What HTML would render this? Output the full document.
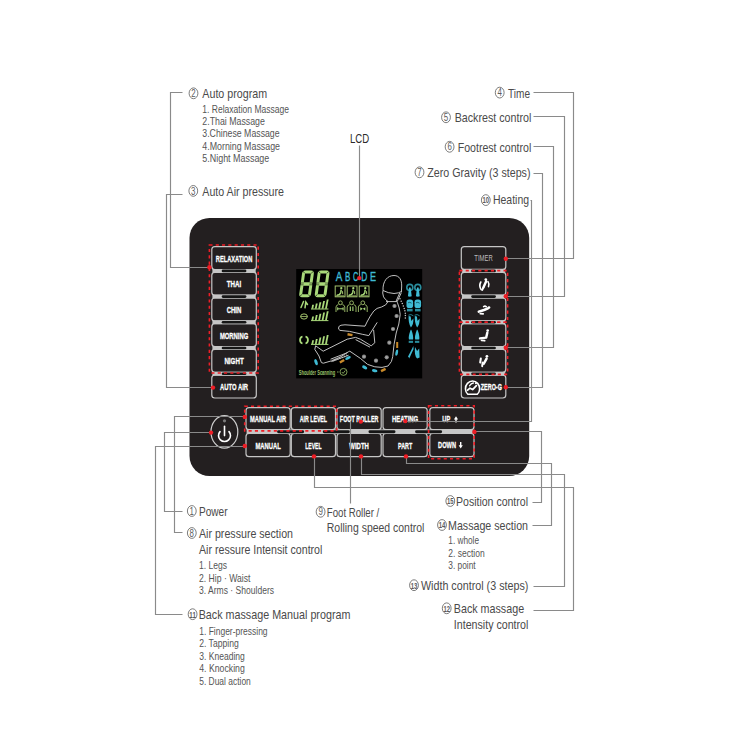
<!DOCTYPE html><html><head><meta charset="utf-8"><style>html,body{margin:0;padding:0;background:#fff;overflow:hidden}svg{display:block}</style></head><body>
<svg width="750" height="750" viewBox="0 0 750 750" font-family="'Liberation Sans', sans-serif">
<rect width="750" height="750" fill="#fff"/>
<ellipse cx="193.5" cy="93.3" rx="4.4" ry="5.4" fill="none" stroke="#5c5c5c" stroke-width="0.8"/>
<text x="193.5" y="96.89999999999999" font-size="10.0" fill="#5c5c5c" text-anchor="middle" textLength="4.4" lengthAdjust="spacingAndGlyphs">2</text>
<text x="202.3" y="98.3" font-size="13.0" fill="#4a4a4a" font-weight="normal" text-anchor="start" textLength="64.8" lengthAdjust="spacingAndGlyphs">Auto program</text>
<text x="202.3" y="112.5" font-size="10.3" fill="#555555" font-weight="normal" text-anchor="start" textLength="86.8" lengthAdjust="spacingAndGlyphs">1. Relaxation Massage</text>
<text x="202.3" y="124.7" font-size="10.3" fill="#555555" font-weight="normal" text-anchor="start" textLength="62.6" lengthAdjust="spacingAndGlyphs">2.Thai Massage</text>
<text x="202.3" y="137.1" font-size="10.3" fill="#555555" font-weight="normal" text-anchor="start" textLength="77.3" lengthAdjust="spacingAndGlyphs">3.Chinese Massage</text>
<text x="202.3" y="149.7" font-size="10.3" fill="#555555" font-weight="normal" text-anchor="start" textLength="77.7" lengthAdjust="spacingAndGlyphs">4.Morning Massage</text>
<text x="202.3" y="162.1" font-size="10.3" fill="#555555" font-weight="normal" text-anchor="start" textLength="67.0" lengthAdjust="spacingAndGlyphs">5.Night Massage</text>
<ellipse cx="193.3" cy="190.9" rx="4.4" ry="5.4" fill="none" stroke="#5c5c5c" stroke-width="0.8"/>
<text x="193.3" y="194.5" font-size="10.0" fill="#5c5c5c" text-anchor="middle" textLength="4.4" lengthAdjust="spacingAndGlyphs">3</text>
<text x="202.3" y="195.9" font-size="13.0" fill="#4a4a4a" font-weight="normal" text-anchor="start" textLength="81.7" lengthAdjust="spacingAndGlyphs">Auto Air pressure</text>
<text x="349.9" y="142.6" font-size="13.5" fill="#2a2a2a" font-weight="normal" text-anchor="start" textLength="19.2" lengthAdjust="spacingAndGlyphs">LCD</text>
<ellipse cx="499.7" cy="92.6" rx="4.4" ry="5.4" fill="none" stroke="#5c5c5c" stroke-width="0.8"/>
<text x="499.7" y="96.19999999999999" font-size="10.0" fill="#5c5c5c" text-anchor="middle" textLength="4.4" lengthAdjust="spacingAndGlyphs">4</text>
<text x="508" y="97.6" font-size="13.0" fill="#4a4a4a" font-weight="normal" text-anchor="start" textLength="22" lengthAdjust="spacingAndGlyphs">Time</text>
<ellipse cx="446.0" cy="117.3" rx="4.4" ry="5.4" fill="none" stroke="#5c5c5c" stroke-width="0.8"/>
<text x="446.0" y="120.89999999999999" font-size="10.0" fill="#5c5c5c" text-anchor="middle" textLength="4.4" lengthAdjust="spacingAndGlyphs">5</text>
<text x="454.7" y="122.3" font-size="13.0" fill="#4a4a4a" font-weight="normal" text-anchor="start" textLength="76.6" lengthAdjust="spacingAndGlyphs">Backrest control</text>
<ellipse cx="449.6" cy="146.8" rx="4.4" ry="5.4" fill="none" stroke="#5c5c5c" stroke-width="0.8"/>
<text x="449.6" y="150.4" font-size="10.0" fill="#5c5c5c" text-anchor="middle" textLength="4.4" lengthAdjust="spacingAndGlyphs">6</text>
<text x="457.7" y="151.8" font-size="13.0" fill="#4a4a4a" font-weight="normal" text-anchor="start" textLength="73.6" lengthAdjust="spacingAndGlyphs">Footrest control</text>
<ellipse cx="419.5" cy="172.3" rx="4.4" ry="5.4" fill="none" stroke="#5c5c5c" stroke-width="0.8"/>
<text x="419.5" y="175.9" font-size="10.0" fill="#5c5c5c" text-anchor="middle" textLength="4.4" lengthAdjust="spacingAndGlyphs">7</text>
<text x="427.3" y="177.3" font-size="13.0" fill="#4a4a4a" font-weight="normal" text-anchor="start" textLength="103.2" lengthAdjust="spacingAndGlyphs">Zero Gravity (3 steps)</text>
<ellipse cx="485.8" cy="200.1" rx="4.4" ry="5.4" fill="none" stroke="#5c5c5c" stroke-width="0.8"/>
<text x="485.8" y="203.4" font-size="9.0" font-weight="bold" fill="#5c5c5c" text-anchor="middle" textLength="6.6" lengthAdjust="spacingAndGlyphs">10</text>
<text x="493" y="204" font-size="13.0" fill="#4a4a4a" font-weight="normal" text-anchor="start" textLength="36" lengthAdjust="spacingAndGlyphs">Heating</text>
<ellipse cx="191.8" cy="511.0" rx="4.4" ry="5.4" fill="none" stroke="#5c5c5c" stroke-width="0.8"/>
<text x="191.8" y="514.6" font-size="10.0" fill="#5c5c5c" text-anchor="middle" textLength="4.4" lengthAdjust="spacingAndGlyphs">1</text>
<text x="199" y="516" font-size="13.0" fill="#4a4a4a" font-weight="normal" text-anchor="start" textLength="28.6" lengthAdjust="spacingAndGlyphs">Power</text>
<ellipse cx="191.8" cy="533.0" rx="4.4" ry="5.4" fill="none" stroke="#5c5c5c" stroke-width="0.8"/>
<text x="191.8" y="536.6" font-size="10.0" fill="#5c5c5c" text-anchor="middle" textLength="4.4" lengthAdjust="spacingAndGlyphs">8</text>
<text x="199" y="538" font-size="13.0" fill="#4a4a4a" font-weight="normal" text-anchor="start" textLength="94" lengthAdjust="spacingAndGlyphs">Air pressure section</text>
<text x="199" y="554.4" font-size="13.0" fill="#4a4a4a" font-weight="normal" text-anchor="start" textLength="123.4" lengthAdjust="spacingAndGlyphs">Air ressure Intensit control</text>
<text x="199" y="568.6" font-size="10.3" fill="#555555" font-weight="normal" text-anchor="start" textLength="28" lengthAdjust="spacingAndGlyphs">1. Legs</text>
<text x="199" y="582" font-size="10.3" fill="#555555" font-weight="normal" text-anchor="start" textLength="51.4" lengthAdjust="spacingAndGlyphs">2. Hip · Waist</text>
<text x="199" y="594" font-size="10.3" fill="#555555" font-weight="normal" text-anchor="start" textLength="75" lengthAdjust="spacingAndGlyphs">3. Arms · Shoulders</text>
<ellipse cx="192.6" cy="614.2" rx="4.4" ry="5.4" fill="none" stroke="#5c5c5c" stroke-width="0.8"/>
<text x="192.6" y="617.5" font-size="9.0" font-weight="bold" fill="#5c5c5c" text-anchor="middle" textLength="6.6" lengthAdjust="spacingAndGlyphs">11</text>
<text x="198.7" y="619.2" font-size="13.0" fill="#4a4a4a" font-weight="normal" text-anchor="start" textLength="151.7" lengthAdjust="spacingAndGlyphs">Back massage Manual program</text>
<text x="199.2" y="634.8" font-size="10.3" fill="#555555" font-weight="normal" text-anchor="start" textLength="68.4" lengthAdjust="spacingAndGlyphs">1. Finger-pressing</text>
<text x="199.2" y="647.3" font-size="10.3" fill="#555555" font-weight="normal" text-anchor="start" textLength="39.6" lengthAdjust="spacingAndGlyphs">2. Tapping</text>
<text x="199.2" y="659.5" font-size="10.3" fill="#555555" font-weight="normal" text-anchor="start" textLength="45.6" lengthAdjust="spacingAndGlyphs">3. Kneading</text>
<text x="199.2" y="672" font-size="10.3" fill="#555555" font-weight="normal" text-anchor="start" textLength="45.6" lengthAdjust="spacingAndGlyphs">4. Knocking</text>
<text x="199.2" y="684.5" font-size="10.3" fill="#555555" font-weight="normal" text-anchor="start" textLength="51.6" lengthAdjust="spacingAndGlyphs">5. Dual action</text>
<ellipse cx="320.6" cy="511.8" rx="4.4" ry="5.4" fill="none" stroke="#5c5c5c" stroke-width="0.8"/>
<text x="320.6" y="515.4" font-size="10.0" fill="#5c5c5c" text-anchor="middle" textLength="4.4" lengthAdjust="spacingAndGlyphs">9</text>
<text x="326.8" y="516.8" font-size="13.0" fill="#4a4a4a" font-weight="normal" text-anchor="start" textLength="52.5" lengthAdjust="spacingAndGlyphs">Foot Roller /</text>
<text x="326.8" y="532" font-size="13.0" fill="#4a4a4a" font-weight="normal" text-anchor="start" textLength="97.6" lengthAdjust="spacingAndGlyphs">Rolling speed control</text>
<ellipse cx="450.3" cy="501.0" rx="4.4" ry="5.4" fill="none" stroke="#5c5c5c" stroke-width="0.8"/>
<text x="450.3" y="504.3" font-size="9.0" font-weight="bold" fill="#5c5c5c" text-anchor="middle" textLength="6.6" lengthAdjust="spacingAndGlyphs">15</text>
<text x="456" y="506" font-size="13.0" fill="#4a4a4a" font-weight="normal" text-anchor="start" textLength="72" lengthAdjust="spacingAndGlyphs">Position control</text>
<ellipse cx="442.0" cy="525.0" rx="4.4" ry="5.4" fill="none" stroke="#5c5c5c" stroke-width="0.8"/>
<text x="442.0" y="528.3" font-size="9.0" font-weight="bold" fill="#5c5c5c" text-anchor="middle" textLength="6.6" lengthAdjust="spacingAndGlyphs">14</text>
<text x="448" y="530" font-size="13.0" fill="#4a4a4a" font-weight="normal" text-anchor="start" textLength="80" lengthAdjust="spacingAndGlyphs">Massage section</text>
<text x="448.3" y="544.4" font-size="10.3" fill="#555555" font-weight="normal" text-anchor="start" textLength="30.7" lengthAdjust="spacingAndGlyphs">1. whole</text>
<text x="448.3" y="556.7" font-size="10.3" fill="#555555" font-weight="normal" text-anchor="start" textLength="36.4" lengthAdjust="spacingAndGlyphs">2. section</text>
<text x="448.3" y="569" font-size="10.3" fill="#555555" font-weight="normal" text-anchor="start" textLength="27.4" lengthAdjust="spacingAndGlyphs">3. point</text>
<ellipse cx="414.0" cy="585.2" rx="4.4" ry="5.4" fill="none" stroke="#5c5c5c" stroke-width="0.8"/>
<text x="414.0" y="588.5" font-size="9.0" font-weight="bold" fill="#5c5c5c" text-anchor="middle" textLength="6.6" lengthAdjust="spacingAndGlyphs">13</text>
<text x="420.9" y="590.2" font-size="13.0" fill="#4a4a4a" font-weight="normal" text-anchor="start" textLength="107.5" lengthAdjust="spacingAndGlyphs">Width control (3 steps)</text>
<ellipse cx="446.7" cy="608.3" rx="4.4" ry="5.4" fill="none" stroke="#5c5c5c" stroke-width="0.8"/>
<text x="446.7" y="611.5999999999999" font-size="9.0" font-weight="bold" fill="#5c5c5c" text-anchor="middle" textLength="6.6" lengthAdjust="spacingAndGlyphs">12</text>
<text x="453.8" y="613.3" font-size="13.0" fill="#4a4a4a" font-weight="normal" text-anchor="start" textLength="70.3" lengthAdjust="spacingAndGlyphs">Back massage</text>
<text x="453.8" y="629.4" font-size="13.0" fill="#4a4a4a" font-weight="normal" text-anchor="start" textLength="74.6" lengthAdjust="spacingAndGlyphs">Intensity control</text>
<rect x="189.5" y="218" width="339.7" height="258" rx="20" ry="20" fill="#231f20"/>
<rect x="296.2" y="269" width="126" height="109.4" fill="#000"/>
<g transform="skewX(-7.7)">
<rect x="340.5280257242769" y="272.1" width="8.8" height="11.8" rx="1.6" fill="none" stroke="#a9d97a" stroke-width="3.0"/>
<rect x="340.5280257242769" y="283.90000000000003" width="8.8" height="11.8" rx="1.6" fill="none" stroke="#a9d97a" stroke-width="3.0"/>
<line x1="339.3280257242769" y1="270.90000000000003" x2="341.7280257242769" y2="273.3" stroke="#000" stroke-width="0.6"/>
<line x1="348.12802572427694" y1="273.3" x2="350.5280257242769" y2="270.90000000000003" stroke="#000" stroke-width="0.6"/>
<line x1="339.3280257242769" y1="296.90000000000003" x2="341.7280257242769" y2="294.50000000000006" stroke="#000" stroke-width="0.6"/>
<line x1="348.12802572427694" y1="294.50000000000006" x2="350.5280257242769" y2="296.90000000000003" stroke="#000" stroke-width="0.6"/>
<line x1="338.9280257242769" y1="283.00000000000006" x2="342.12802572427694" y2="283.00000000000006" stroke="#000" stroke-width="0.5"/>
<line x1="338.9280257242769" y1="284.8" x2="342.12802572427694" y2="284.8" stroke="#000" stroke-width="0.5"/>
<line x1="347.7280257242769" y1="283.00000000000006" x2="350.92802572427695" y2="283.00000000000006" stroke="#000" stroke-width="0.5"/>
<line x1="347.7280257242769" y1="284.8" x2="350.92802572427695" y2="284.8" stroke="#000" stroke-width="0.5"/>
<rect x="356.0780257242769" y="272.1" width="8.8" height="11.8" rx="1.6" fill="none" stroke="#a9d97a" stroke-width="3.0"/>
<rect x="356.0780257242769" y="283.90000000000003" width="8.8" height="11.8" rx="1.6" fill="none" stroke="#a9d97a" stroke-width="3.0"/>
<line x1="354.87802572427694" y1="270.90000000000003" x2="357.2780257242769" y2="273.3" stroke="#000" stroke-width="0.6"/>
<line x1="363.67802572427695" y1="273.3" x2="366.0780257242769" y2="270.90000000000003" stroke="#000" stroke-width="0.6"/>
<line x1="354.87802572427694" y1="296.90000000000003" x2="357.2780257242769" y2="294.50000000000006" stroke="#000" stroke-width="0.6"/>
<line x1="363.67802572427695" y1="294.50000000000006" x2="366.0780257242769" y2="296.90000000000003" stroke="#000" stroke-width="0.6"/>
<line x1="354.4780257242769" y1="283.00000000000006" x2="357.67802572427695" y2="283.00000000000006" stroke="#000" stroke-width="0.5"/>
<line x1="354.4780257242769" y1="284.8" x2="357.67802572427695" y2="284.8" stroke="#000" stroke-width="0.5"/>
<line x1="363.2780257242769" y1="283.00000000000006" x2="366.47802572427696" y2="283.00000000000006" stroke="#000" stroke-width="0.5"/>
<line x1="363.2780257242769" y1="284.8" x2="366.47802572427696" y2="284.8" stroke="#000" stroke-width="0.5"/>
</g>
<text x="335.7" y="281.3" font-size="12" fill="#3fbad3" stroke="#3fbad3" stroke-width="0.35" textLength="6.600000000000023" lengthAdjust="spacingAndGlyphs" font-family="Liberation Sans, sans-serif">A</text>
<text x="345.0" y="281.3" font-size="12" fill="#3fbad3" stroke="#3fbad3" stroke-width="0.35" textLength="5.300000000000011" lengthAdjust="spacingAndGlyphs" font-family="Liberation Sans, sans-serif">B</text>
<text x="353.0" y="281.3" font-size="12" fill="#3fbad3" stroke="#3fbad3" stroke-width="0.35" textLength="5.300000000000011" lengthAdjust="spacingAndGlyphs" font-family="Liberation Sans, sans-serif">C</text>
<text x="361.3" y="281.3" font-size="12" fill="#3fbad3" stroke="#3fbad3" stroke-width="0.35" textLength="6.0" lengthAdjust="spacingAndGlyphs" font-family="Liberation Sans, sans-serif">D</text>
<text x="370.0" y="281.3" font-size="12" fill="#3fbad3" stroke="#3fbad3" stroke-width="0.35" textLength="6.0" lengthAdjust="spacingAndGlyphs" font-family="Liberation Sans, sans-serif">E</text>
<rect x="335.2" y="286.0" width="9.8" height="10.8" fill="none" stroke="#a4c46e" stroke-width="1"/>
<circle cx="341.3" cy="288.2" r="1.15" fill="#a9d97a"/>
<path d="M341.2,289.6 L340.8,292.4 Q340.09999999999997,295 336.8,295.3" fill="none" stroke="#a9d97a" stroke-width="1.5"/>
<path d="M342.5,291.2 L342.7,294.2" fill="none" stroke="#a4c46e" stroke-width="1.0"/>
<path d="M336.0,295.9 L344.2,295.9" stroke="#a4c46e" stroke-width="0.9"/>
<rect x="347.2" y="286.0" width="9.8" height="10.8" fill="none" stroke="#a4c46e" stroke-width="1"/>
<circle cx="353.3" cy="288.2" r="1.15" fill="#a9d97a"/>
<path d="M353.2,289.6 L352.8,292.4 Q352.09999999999997,295 348.8,295.3" fill="none" stroke="#a9d97a" stroke-width="1.5"/>
<path d="M354.5,291.2 L354.7,294.2" fill="none" stroke="#a4c46e" stroke-width="1.0"/>
<path d="M348.0,295.9 L356.2,295.9" stroke="#a4c46e" stroke-width="0.9"/>
<rect x="359.2" y="286.0" width="9.8" height="10.8" fill="none" stroke="#a4c46e" stroke-width="1"/>
<circle cx="365.3" cy="288.2" r="1.15" fill="#a9d97a"/>
<path d="M365.2,289.6 L364.8,292.4 Q364.09999999999997,295 360.8,295.3" fill="none" stroke="#a9d97a" stroke-width="1.5"/>
<path d="M366.5,291.2 L366.7,294.2" fill="none" stroke="#a4c46e" stroke-width="1.0"/>
<path d="M360.0,295.9 L368.2,295.9" stroke="#a4c46e" stroke-width="0.9"/>
<circle cx="340.4" cy="302.8" r="1.9" fill="none" stroke="#a4c46e" stroke-width="0.9"/>
<path d="M336.0,312 L336.0,307 Q336.2,305 338.4,304.6 M342.4,304.6 Q344.59999999999997,305 344.79999999999995,307 L344.79999999999995,312" fill="none" stroke="#a4c46e" stroke-width="0.9"/>
<path d="M337.7,308.8 L343.09999999999997,308.8 M337.7,307.3 L337.7,310.3 M343.09999999999997,307.3 L343.09999999999997,310.3" stroke="#a9d97a" stroke-width="1"/>
<circle cx="351.6" cy="302.8" r="1.9" fill="none" stroke="#a4c46e" stroke-width="0.9"/>
<path d="M347.20000000000005,312 L347.20000000000005,307 Q347.40000000000003,305 349.6,304.6 M353.6,304.6 Q355.8,305 356.0,307 L356.0,312" fill="none" stroke="#a4c46e" stroke-width="0.9"/>
<path d="M350.3,306.5 L350.3,311 M352.90000000000003,306.5 L352.90000000000003,311" stroke="#a9d97a" stroke-width="1.1"/>
<circle cx="362.8" cy="302.8" r="1.9" fill="none" stroke="#a4c46e" stroke-width="0.9"/>
<path d="M358.40000000000003,312 L358.40000000000003,307 Q358.6,305 360.8,304.6 M364.8,304.6 Q367.0,305 367.2,307 L367.2,312" fill="none" stroke="#a4c46e" stroke-width="0.9"/>
<path d="M360.3,307.2 L360.3,310.4 L362.8,308.8 Z M365.3,307.2 L365.3,310.4 L362.8,308.8 Z" fill="#a9d97a"/>
<polygon points="311.4,308.8 313.2,308.8 314.0,304.8 312.2,304.8" fill="#a9d97a"/>
<polygon points="314.8,308.8 316.6,308.8 317.66,303.5 315.86,303.5" fill="#a9d97a"/>
<polygon points="318.2,308.8 320.0,308.8 321.32,302.2 319.52,302.2" fill="#a9d97a"/>
<polygon points="321.6,308.8 323.40000000000003,308.8 324.98,300.90000000000003 323.18,300.90000000000003" fill="#a9d97a"/>
<polygon points="325.0,308.8 326.8,308.8 328.64,299.6 326.84,299.6" fill="#a9d97a"/>
<rect x="311.0" y="308.5" width="17.4" height="1.0" fill="#a9d97a"/>
<polygon points="311.4,320.4 313.2,320.4 314.0,316.4 312.2,316.4" fill="#a9d97a"/>
<polygon points="314.8,320.4 316.6,320.4 317.66,315.09999999999997 315.86,315.09999999999997" fill="#a9d97a"/>
<polygon points="318.2,320.4 320.0,320.4 321.32,313.79999999999995 319.52,313.79999999999995" fill="#a9d97a"/>
<polygon points="321.6,320.4 323.40000000000003,320.4 324.98,312.5 323.18,312.5" fill="#a9d97a"/>
<polygon points="325.0,320.4 326.8,320.4 328.64,311.2 326.84,311.2" fill="#a9d97a"/>
<rect x="311.0" y="320.09999999999997" width="17.4" height="1.0" fill="#a9d97a"/>
<polygon points="311.4,344.2 313.2,344.2 314.0,340.2 312.2,340.2" fill="#a9d97a"/>
<polygon points="314.8,344.2 316.6,344.2 317.66,338.9 315.86,338.9" fill="#a9d97a"/>
<polygon points="318.2,344.2 320.0,344.2 321.32,337.59999999999997 319.52,337.59999999999997" fill="#a9d97a"/>
<polygon points="321.6,344.2 323.40000000000003,344.2 324.98,336.3 323.18,336.3" fill="#a9d97a"/>
<polygon points="325.0,344.2 326.8,344.2 328.64,335.0 326.84,335.0" fill="#a9d97a"/>
<rect x="311.0" y="343.9" width="17.4" height="1.0" fill="#a9d97a"/>
<path d="M301,307.5 L303.5,301.5 M305,307.8 L305.8,302 L307.5,304.5" fill="none" stroke="#a9d97a" stroke-width="1.5" stroke-linecap="round"/>
<ellipse cx="304" cy="316.5" rx="3.4" ry="2.6" fill="none" stroke="#a4c46e" stroke-width="1"/>
<path d="M300.5,316.5 L307.5,316.5" stroke="#a4c46e" stroke-width="0.8"/>
<path d="M302.5,336.5 A3.2,3.6 0 0,0 302.5,343.5 M305.5,336.5 A3.2,3.6 0 0,1 305.5,343.5" fill="none" stroke="#a9d97a" stroke-width="1.8"/>
<circle cx="409.8" cy="287.4" r="3.0" fill="none" stroke="#2a8c9c" stroke-width="1.6"/>
<path d="M409.0,287.4 L407.90000000000003,296.3 Q409.8,297.0 411.7,296.3 L410.6,287.4 Z" fill="#3fbad3"/>
<circle cx="417.8" cy="287.4" r="3.0" fill="none" stroke="#2a8c9c" stroke-width="1.6"/>
<path d="M417.0,287.4 L415.90000000000003,296.3 Q417.8,297.0 419.7,296.3 L418.6,287.4 Z" fill="#3fbad3"/>
<rect x="406.5" y="299.6" width="6.6000000000000005" height="8.4" rx="2.6" fill="#3fbad3"/>
<path d="M408.0,302.8 Q409.8,301.6 411.59999999999997,303.20000000000005" fill="none" stroke="#0b4a55" stroke-width="0.8"/>
<rect x="407.0" y="308.8" width="5.6" height="2.6" fill="#2a8c9c"/>
<rect x="414.5" y="299.6" width="6.6000000000000005" height="8.4" rx="2.6" fill="#3fbad3"/>
<path d="M416.0,302.8 Q417.8,301.6 419.59999999999997,303.20000000000005" fill="none" stroke="#0b4a55" stroke-width="0.8"/>
<rect x="415.0" y="308.8" width="5.6" height="2.6" fill="#2a8c9c"/>
<path d="M408.59999999999997,316.1 Q408.2,323.4 410.9,327.4 Q413.7,324.4 413.4,318.6 L411.29999999999995,321.1 L410.7,316.6 Z" fill="#3fbad3"/>
<path d="M408.4,315.20000000000005 Q410.9,313.6 413.4,315.8" fill="none" stroke="#2a8c9c" stroke-width="0.9"/>
<path d="M414.8,316.1 Q414.40000000000003,323.4 417.1,327.4 Q419.90000000000003,324.4 419.6,318.6 L417.5,321.1 L416.90000000000003,316.6 Z" fill="#3fbad3"/>
<path d="M414.6,315.20000000000005 Q417.1,313.6 419.6,315.8" fill="none" stroke="#2a8c9c" stroke-width="0.9"/>
<path d="M410.7,329.8 Q408.0,336.8 409.0,339.6 L413.0,339.6 Q413.7,335.8 411.29999999999995,329.8 Z" fill="#3fbad3"/>
<rect x="408.7" y="340.8" width="4.4" height="2.1" fill="#2a8c9c"/>
<path d="M416.90000000000003,329.8 Q414.20000000000005,336.8 415.20000000000005,339.6 L419.20000000000005,339.6 Q419.90000000000003,335.8 417.5,329.8 Z" fill="#3fbad3"/>
<rect x="414.90000000000003" y="340.8" width="4.4" height="2.1" fill="#2a8c9c"/>
<path d="M413.4,346.0 L408.2,356.20000000000005 L409.2,358.6 L413.59999999999997,349.0 Z" fill="#3fbad3"/>
<path d="M415.0,346.9 Q414.1,355.6 417.1,358.6 L419.6,357.6 L419.20000000000005,348.4 L417.1,350.9 Z" fill="#3fbad3"/>
<path d="M383,290.5 C382.6,281 387.5,275.5 394,275.5 C399.5,275.5 401.8,280 401.7,286 L401.4,292 M383,290.5 Q388,293.2 394,293.5 Q399,293.2 401.4,291.5 M383,290.5 L382.7,293 Q383,297.5 385.5,299.5 L388,301.5 M386,301.6 L397.5,301.6 M401.4,292.5 L397.3,301.3 M399.8,292.8 L395.9,301.6 M388,301.6 Q386.5,305.5 381.5,307 Q376.5,307.8 373.8,311 Q370,316 367,322 L365,326.2 L356,325.6 L345,324.8 Q340,324.8 338.8,326.6 Q337.8,329.8 340,330.4 L349.6,331.4 L362.8,334.4 L368.8,335.6 L377.2,322.4 M373.6,329.8 L374.8,342.8 L371.2,345.8 L360.4,339.2 L355.6,337.4 L347.2,339.2 L334,345.8 L323.2,351.2 L319,348.2 L315.6,345.8 L314.8,349.4 L319,356 L321.4,362.6 L323.4,363.2 L331.6,360.8 L340,357.2 L348.4,351.8 L349.8,351.2 L360.4,358.4 L367.6,364.4 L374.8,366.8 L382,367.4 L388,366 L391.4,361.5 L392.7,356.7 L394,344.7 L396.2,333 L398.8,324 L400.2,314.5 L399.2,308 L397.3,302.2 M355.6,339.6 L370,347.2 M330.6,359.2 L347.6,352.6 M331.4,361.6 L348.6,355.2" fill="none" stroke="#c9c9c9" stroke-width="0.95" stroke-linejoin="round"/>
<line x1="333.0" y1="359.40000000000003" x2="333.8" y2="361.6" stroke="#c9c9c9" stroke-width="0.6"/>
<line x1="335.2" y1="358.55" x2="336.0" y2="360.75" stroke="#c9c9c9" stroke-width="0.6"/>
<line x1="337.4" y1="357.70000000000005" x2="338.2" y2="359.90000000000003" stroke="#c9c9c9" stroke-width="0.6"/>
<line x1="339.6" y1="356.85" x2="340.40000000000003" y2="359.05" stroke="#c9c9c9" stroke-width="0.6"/>
<line x1="341.8" y1="356.00000000000006" x2="342.6" y2="358.20000000000005" stroke="#c9c9c9" stroke-width="0.6"/>
<line x1="344.0" y1="355.15000000000003" x2="344.8" y2="357.35" stroke="#c9c9c9" stroke-width="0.6"/>
<line x1="346.2" y1="354.3" x2="347.0" y2="356.5" stroke="#c9c9c9" stroke-width="0.6"/>
<circle cx="400.0" cy="298.7" r="0.75" fill="#c8c8c8"/>
<circle cx="401.2" cy="301.2" r="0.75" fill="#c8c8c8"/>
<circle cx="402.3" cy="303.6" r="0.75" fill="#c8c8c8"/>
<circle cx="403.3" cy="306.0" r="0.75" fill="#c8c8c8"/>
<circle cx="404.2" cy="308.4" r="0.75" fill="#c8c8c8"/>
<circle cx="404.9" cy="310.8" r="0.75" fill="#c8c8c8"/>
<circle cx="405.3" cy="313.2" r="0.75" fill="#c8c8c8"/>
<circle cx="405.4" cy="315.6" r="0.75" fill="#c8c8c8"/>
<circle cx="405.3" cy="318.0" r="0.75" fill="#c8c8c8"/>
<circle cx="394.5" cy="306" r="2.1" fill="#8d8d8d"/>
<circle cx="394.5" cy="306" r="1.0" fill="#a8a8a8"/>
<circle cx="396.6" cy="316" r="2.1" fill="#8d8d8d"/>
<circle cx="396.6" cy="316" r="1.0" fill="#a8a8a8"/>
<circle cx="393" cy="329" r="2.1" fill="#8d8d8d"/>
<circle cx="393" cy="329" r="1.0" fill="#a8a8a8"/>
<circle cx="389.3" cy="342.7" r="2.1" fill="#8d8d8d"/>
<circle cx="389.3" cy="342.7" r="1.0" fill="#a8a8a8"/>
<circle cx="386.7" cy="357.3" r="2.1" fill="#8d8d8d"/>
<circle cx="386.7" cy="357.3" r="1.0" fill="#a8a8a8"/>
<circle cx="376" cy="360.7" r="2.1" fill="#8d8d8d"/>
<circle cx="376" cy="360.7" r="1.0" fill="#a8a8a8"/>
<circle cx="364" cy="356.7" r="2.1" fill="#8d8d8d"/>
<circle cx="364" cy="356.7" r="1.0" fill="#a8a8a8"/>
<rect x="347.5" y="333.5" width="5" height="2.4" fill="#c98a2a" transform="rotate(10 350 334.7)"/>
<rect x="339.5" y="360.1" width="5" height="2.4" fill="#c98a2a" transform="rotate(-30 342 361.3)"/>
<rect x="380.8" y="368.8" width="5" height="2.4" fill="#c98a2a" transform="rotate(-25 383.3 370)"/>
<rect x="396.2" y="342" width="2" height="6" fill="#c98a2a"/>
<ellipse cx="316.1" cy="362.2" rx="1.5" ry="3.2" fill="#3fbad3" transform="rotate(-20 316.1 362.2)"/>
<ellipse cx="348" cy="358" rx="3.0" ry="1.4" fill="#3fbad3" transform="rotate(-25 348 358)"/>
<ellipse cx="364.7" cy="367.3" rx="2.8" ry="1.6" fill="#3fbad3" transform="rotate(30 364.7 367.3)"/>
<ellipse cx="374.7" cy="370.7" rx="2.8" ry="1.5" fill="#3fbad3" transform="rotate(10 374.7 370.7)"/>
<ellipse cx="396.7" cy="352.7" rx="1.3" ry="3.2" fill="#3fbad3" transform="rotate(10 396.7 352.7)"/>
<text x="298.8" y="374.8" font-size="6.8" font-weight="bold" fill="#9cc36a" textLength="36.4" lengthAdjust="spacingAndGlyphs" font-family="Liberation Sans, sans-serif">Shoulder Scanning</text>
<rect x="337" y="371.6" width="1.6" height="0.8" fill="#9cc36a"/>
<circle cx="343.5" cy="371.9" r="3.5" fill="none" stroke="#9cc36a" stroke-width="0.8"/>
<path d="M341.8,372 L343.1,373.4 L345.3,370.5" fill="none" stroke="#9cc36a" stroke-width="0.8"/>
<rect x="211.8" y="246.6" width="44.5" height="22.900000000000006" rx="3" ry="3" fill="#231f20" stroke="#c6c6c6" stroke-width="1.2"/>
<text x="234.05" y="261.584" font-size="9.3" fill="#fff" font-weight="bold" text-anchor="middle" textLength="36.4" lengthAdjust="spacingAndGlyphs" stroke="#fff" stroke-width="0.3">RELAXATION</text>
<rect x="211.8" y="272.3" width="44.5" height="22.899999999999977" rx="3" ry="3" fill="#231f20" stroke="#c6c6c6" stroke-width="1.2"/>
<text x="234.05" y="287.284" font-size="9.3" fill="#fff" font-weight="bold" text-anchor="middle" textLength="14.5" lengthAdjust="spacingAndGlyphs" stroke="#fff" stroke-width="0.3">THAI</text>
<rect x="211.8" y="298.0" width="44.5" height="22.899999999999977" rx="3" ry="3" fill="#231f20" stroke="#c6c6c6" stroke-width="1.2"/>
<text x="234.05" y="312.984" font-size="9.3" fill="#fff" font-weight="bold" text-anchor="middle" textLength="14.6" lengthAdjust="spacingAndGlyphs" stroke="#fff" stroke-width="0.3">CHIN</text>
<rect x="211.8" y="323.7" width="44.5" height="22.899999999999977" rx="3" ry="3" fill="#231f20" stroke="#c6c6c6" stroke-width="1.2"/>
<text x="234.05" y="338.68399999999997" font-size="9.3" fill="#fff" font-weight="bold" text-anchor="middle" textLength="28.3" lengthAdjust="spacingAndGlyphs" stroke="#fff" stroke-width="0.3">MORNING</text>
<rect x="211.8" y="349.4" width="44.5" height="22.899999999999977" rx="3" ry="3" fill="#231f20" stroke="#c6c6c6" stroke-width="1.2"/>
<text x="234.05" y="364.38399999999996" font-size="9.3" fill="#fff" font-weight="bold" text-anchor="middle" textLength="19.3" lengthAdjust="spacingAndGlyphs" stroke="#fff" stroke-width="0.3">NIGHT</text>
<rect x="211.8" y="375.1" width="44.5" height="22.899999999999977" rx="3" ry="3" fill="#231f20" stroke="#c6c6c6" stroke-width="1.2"/>
<text x="234.05" y="390.084" font-size="9.3" fill="#fff" font-weight="bold" text-anchor="middle" textLength="28.0" lengthAdjust="spacingAndGlyphs" stroke="#fff" stroke-width="0.3">AUTO AIR</text>
<rect x="212.4" y="269.0" width="43.3" height="3.8000000000000114" fill="#c6c6c6"/>
<rect x="221.7095" y="269.59999999999997" width="24.680999999999997" height="2.6" rx="1.3" fill="#151515"/>
<rect x="212.4" y="294.7" width="43.3" height="3.8000000000000114" fill="#c6c6c6"/>
<rect x="221.7095" y="295.3" width="24.680999999999997" height="2.6" rx="1.3" fill="#151515"/>
<rect x="212.4" y="320.4" width="43.3" height="3.8000000000000114" fill="#c6c6c6"/>
<rect x="221.7095" y="320.99999999999994" width="24.680999999999997" height="2.6" rx="1.3" fill="#151515"/>
<rect x="212.4" y="346.09999999999997" width="43.3" height="3.8000000000000114" fill="#c6c6c6"/>
<rect x="221.7095" y="346.7" width="24.680999999999997" height="2.6" rx="1.3" fill="#151515"/>
<rect x="212.4" y="371.79999999999995" width="43.3" height="3.800000000000068" fill="#c6c6c6"/>
<rect x="221.7095" y="372.4" width="24.680999999999997" height="2.6" rx="1.3" fill="#151515"/>
<rect x="461.3" y="246.6" width="44.5" height="22.8" rx="3" ry="3" fill="#231f20" stroke="#c6c6c6" stroke-width="1.2"/>
<text x="483.55" y="261.116" font-size="8.2" fill="#bdbdbd" font-weight="normal" text-anchor="middle" textLength="18.4" lengthAdjust="spacingAndGlyphs">TIMER</text>
<rect x="461.3" y="272.3" width="44.5" height="22.899999999999977" rx="3" ry="3" fill="#231f20" stroke="#c6c6c6" stroke-width="1.2"/>
<rect x="461.3" y="298.0" width="44.5" height="22.899999999999977" rx="3" ry="3" fill="#231f20" stroke="#c6c6c6" stroke-width="1.2"/>
<rect x="461.3" y="323.7" width="44.5" height="22.899999999999977" rx="3" ry="3" fill="#231f20" stroke="#c6c6c6" stroke-width="1.2"/>
<rect x="461.3" y="349.4" width="44.5" height="22.899999999999977" rx="3" ry="3" fill="#231f20" stroke="#c6c6c6" stroke-width="1.2"/>
<rect x="461.3" y="375.1" width="44.5" height="22.899999999999977" rx="3" ry="3" fill="#231f20" stroke="#c6c6c6" stroke-width="1.2"/>
<rect x="461.90000000000003" y="269.0" width="43.3" height="3.8000000000000114" fill="#c6c6c6"/>
<rect x="471.20950000000005" y="269.59999999999997" width="24.680999999999997" height="2.6" rx="1.3" fill="#151515"/>
<rect x="461.90000000000003" y="294.7" width="43.3" height="3.8000000000000114" fill="#c6c6c6"/>
<rect x="471.20950000000005" y="295.3" width="24.680999999999997" height="2.6" rx="1.3" fill="#151515"/>
<rect x="461.90000000000003" y="320.4" width="43.3" height="3.8000000000000114" fill="#c6c6c6"/>
<rect x="471.20950000000005" y="320.99999999999994" width="24.680999999999997" height="2.6" rx="1.3" fill="#151515"/>
<rect x="461.90000000000003" y="346.09999999999997" width="43.3" height="3.8000000000000114" fill="#c6c6c6"/>
<rect x="471.20950000000005" y="346.7" width="24.680999999999997" height="2.6" rx="1.3" fill="#151515"/>
<rect x="461.90000000000003" y="371.79999999999995" width="43.3" height="3.800000000000068" fill="#c6c6c6"/>
<rect x="471.20950000000005" y="372.4" width="24.680999999999997" height="2.6" rx="1.3" fill="#151515"/>
<g fill="none" stroke="#ffffff" stroke-linecap="round" stroke-linejoin="round">
<circle cx="485.8" cy="279.6" r="1.35" fill="#fff" stroke="none"/>
<path d="M486.2,281.3 L483.4,287.6" stroke-width="2.45"/>
<path d="M483.3,287.6 L482.3,290" stroke-width="1.85"/>
<path d="M480.8,282 Q478.7,286 481.2,289.6" stroke-width="1.65"/>
<path d="M488,281.6 Q489.6,284 488.5,286.6" stroke-width="1.55"/>
<circle cx="489.0" cy="307.5" r="1.35" fill="#fff" stroke="none"/>
<path d="M478.8,311.6 Q482,310.6 484,310 L488,308.3" stroke-width="2.55"/>
<path d="M483.6,306.6 Q485,305.6 486.4,306.8" stroke-width="1.55"/>
<path d="M480.3,313.6 L483.2,313.9" stroke-width="1.65"/>
<circle cx="487.7" cy="330.6" r="1.35" fill="#fff" stroke="none"/>
<path d="M487.3,332.8 L486.2,337.6 L480,338.4" stroke-width="2.45"/>
<path d="M481.6,340.4 L484.6,340.7" stroke-width="1.85"/>
<circle cx="486.9" cy="356.3" r="1.35" fill="#fff" stroke="none"/>
<path d="M486.6,358.6 L483.8,363.6" stroke-width="2.45"/>
<path d="M482.6,362.6 L482.2,366.2" stroke-width="1.95"/>
<path d="M480.8,358.6 L480.2,362.5" stroke-width="2.05"/>
<path d="M467.8,394.3 A7.1,7.6 0 1,1 477.3,394.3 Z" stroke-width="1.55"/>
<path d="M467.6,390.2 L470,388.2 L472.6,389.6 L476.4,385.6" stroke-width="1.75"/>
<circle cx="475.9" cy="383.3" r="1" fill="#fff" stroke="none"/>
<path d="M469.6,385.8 Q471,383.2 473.4,383" stroke-width="1.35"/>
</g>
<text x="480.8" y="390.4" font-size="9.8" fill="#fff" font-weight="bold" text-anchor="start" textLength="21.1" lengthAdjust="spacingAndGlyphs" stroke="#fff" stroke-width="0.35">ZERO-G</text>
<rect x="246.0" y="407.6" width="44.2" height="22.099999999999966" rx="3" ry="3" fill="#231f20" stroke="#c6c6c6" stroke-width="1.2"/>
<text x="268.1" y="422.18399999999997" font-size="9.3" fill="#fff" font-weight="bold" text-anchor="middle" textLength="36" lengthAdjust="spacingAndGlyphs" stroke="#fff" stroke-width="0.3">MANUAL AIR</text>
<rect x="291.3" y="407.6" width="44.2" height="22.099999999999966" rx="3" ry="3" fill="#231f20" stroke="#c6c6c6" stroke-width="1.2"/>
<text x="313.40000000000003" y="422.18399999999997" font-size="9.3" fill="#fff" font-weight="bold" text-anchor="middle" textLength="27.3" lengthAdjust="spacingAndGlyphs" stroke="#fff" stroke-width="0.3">AIR LEVEL</text>
<rect x="337.0" y="407.6" width="44.2" height="22.099999999999966" rx="3" ry="3" fill="#231f20" stroke="#c6c6c6" stroke-width="1.2"/>
<text x="359.1" y="422.18399999999997" font-size="9.3" fill="#fff" font-weight="bold" text-anchor="middle" textLength="38.5" lengthAdjust="spacingAndGlyphs" stroke="#fff" stroke-width="0.3">FOOT ROLLER</text>
<rect x="383.0" y="407.6" width="44.2" height="22.099999999999966" rx="3" ry="3" fill="#231f20" stroke="#c6c6c6" stroke-width="1.2"/>
<text x="405.1" y="422.18399999999997" font-size="9.3" fill="#fff" font-weight="bold" text-anchor="middle" textLength="26.3" lengthAdjust="spacingAndGlyphs" stroke="#fff" stroke-width="0.3">HEATING</text>
<rect x="429.8" y="407.6" width="44.2" height="22.099999999999966" rx="3" ry="3" fill="#231f20" stroke="#c6c6c6" stroke-width="1.2"/>
<rect x="246.0" y="433.5" width="44.2" height="23.19999999999999" rx="3" ry="3" fill="#231f20" stroke="#c6c6c6" stroke-width="1.2"/>
<text x="268.1" y="448.634" font-size="9.3" fill="#fff" font-weight="bold" text-anchor="middle" textLength="25.3" lengthAdjust="spacingAndGlyphs" stroke="#fff" stroke-width="0.3">MANUAL</text>
<rect x="291.3" y="433.5" width="44.2" height="23.19999999999999" rx="3" ry="3" fill="#231f20" stroke="#c6c6c6" stroke-width="1.2"/>
<text x="313.40000000000003" y="448.634" font-size="9.3" fill="#fff" font-weight="bold" text-anchor="middle" textLength="16.3" lengthAdjust="spacingAndGlyphs" stroke="#fff" stroke-width="0.3">LEVEL</text>
<rect x="337.0" y="433.5" width="44.2" height="23.19999999999999" rx="3" ry="3" fill="#231f20" stroke="#c6c6c6" stroke-width="1.2"/>
<text x="359.1" y="448.634" font-size="9.3" fill="#fff" font-weight="bold" text-anchor="middle" textLength="19.5" lengthAdjust="spacingAndGlyphs" stroke="#fff" stroke-width="0.3">WIDTH</text>
<rect x="383.0" y="433.5" width="44.2" height="23.19999999999999" rx="3" ry="3" fill="#231f20" stroke="#c6c6c6" stroke-width="1.2"/>
<text x="405.1" y="448.634" font-size="9.3" fill="#fff" font-weight="bold" text-anchor="middle" textLength="14.2" lengthAdjust="spacingAndGlyphs" stroke="#fff" stroke-width="0.3">PART</text>
<rect x="429.8" y="433.5" width="44.2" height="23.19999999999999" rx="3" ry="3" fill="#231f20" stroke="#c6c6c6" stroke-width="1.2"/>
<text x="442.3" y="422.4" font-size="9.3" fill="#fff" font-weight="bold" text-anchor="start" textLength="7.9" lengthAdjust="spacingAndGlyphs" stroke="#fff" stroke-width="0.3">UP</text>
<path d="M456,422.6 L456,418.6" stroke="#fff" stroke-width="1.4"/><path d="M453.9,419.6 L456,416.3 L458.1,419.6 Z" fill="#fff"/>
<text x="438.1" y="448.4" font-size="9.3" fill="#fff" font-weight="bold" text-anchor="start" textLength="17.9" lengthAdjust="spacingAndGlyphs" stroke="#fff" stroke-width="0.3">DOWN</text>
<path d="M460.7,442 L460.7,446" stroke="#fff" stroke-width="1.4"/><path d="M458.6,445.2 L460.7,448.6 L462.8,445.2 Z" fill="#fff"/>
<rect x="246.6" y="429.4" width="226.2" height="4.6" fill="#c6c6c6"/>
<rect x="277.1" y="430.3" width="27" height="2.9" rx="1.45" fill="#151515"/>
<rect x="322.8" y="430.3" width="27" height="2.9" rx="1.45" fill="#151515"/>
<rect x="368.5" y="430.3" width="27" height="2.9" rx="1.45" fill="#151515"/>
<rect x="415.1" y="430.3" width="27" height="2.9" rx="1.45" fill="#151515"/>
<ellipse cx="224.4" cy="431.9" rx="13.4" ry="16.2" fill="#231f20" stroke="#cfcfcf" stroke-width="1.2"/>
<circle cx="224.5" cy="420.8" r="1.6" fill="#7a7a7a"/>
<path d="M220.0,431.6 A6,6 0 1,0 229.0,431.6" fill="none" stroke="#fff" stroke-width="1.6" stroke-linecap="round"/>
<line x1="224.5" y1="426.4" x2="224.5" y2="435.6" stroke="#fff" stroke-width="1.6" stroke-linecap="round"/>
<rect x="209.4" y="245.0" width="48.8" height="128.0" fill="none" stroke="#ee1d25" stroke-width="1.6" stroke-dasharray="3.1 3.2"/>
<rect x="459.4" y="270.6" width="48.2" height="51.6" fill="none" stroke="#ee1d25" stroke-width="1.6" stroke-dasharray="3.1 3.2"/>
<rect x="459.4" y="322.2" width="48.2" height="52.2" fill="none" stroke="#ee1d25" stroke-width="1.6" stroke-dasharray="3.1 3.2"/>
<rect x="244.7" y="406.3" width="92.0" height="24.6" fill="none" stroke="#ee1d25" stroke-width="1.6" stroke-dasharray="3.1 3.2"/>
<rect x="428.6" y="405.8" width="45.6" height="53.0" fill="none" stroke="#ee1d25" stroke-width="1.6" stroke-dasharray="3.1 3.2"/>
<polyline points="182.5,92.5 170.5,92.5 170.5,267.5 209.5,267.5" fill="none" stroke="#8a8a8a" stroke-width="1.15"/>
<polyline points="182.5,194.5 166.5,194.5 166.5,387.5 213.5,387.5" fill="none" stroke="#8a8a8a" stroke-width="1.15"/>
<polyline points="244.5,416.5 174.5,416.5 174.5,532.5 182.5,532.5" fill="none" stroke="#8a8a8a" stroke-width="1.15"/>
<polyline points="211.5,432.5 164.5,432.5 164.5,511.5 182.5,511.5" fill="none" stroke="#8a8a8a" stroke-width="1.15"/>
<polyline points="244.5,446.5 155.5,446.5 155.5,614.5 182.5,614.5" fill="none" stroke="#8a8a8a" stroke-width="1.15"/>
<polyline points="359.5,145.5 359.5,278.5" fill="none" stroke="#8a8a8a" stroke-width="1.15"/>
<polyline points="533.5,92.5 573.5,92.5 573.5,258.5 505.5,258.5" fill="none" stroke="#8a8a8a" stroke-width="1.15"/>
<polyline points="533.5,116.5 564.5,116.5 564.5,296.5 505.5,296.5" fill="none" stroke="#8a8a8a" stroke-width="1.15"/>
<polyline points="533.5,146.5 553.5,146.5 553.5,347.5 505.5,347.5" fill="none" stroke="#8a8a8a" stroke-width="1.15"/>
<polyline points="533.5,173.5 542.5,173.5 542.5,387.5 505.5,387.5" fill="none" stroke="#8a8a8a" stroke-width="1.15"/>
<polyline points="530.5,200.5 531.5,200.5 531.5,421.5 405.5,421.5" fill="none" stroke="#8a8a8a" stroke-width="1.15"/>
<polyline points="474.5,431.5 541.5,431.5 541.5,502.5 532.5,502.5" fill="none" stroke="#8a8a8a" stroke-width="1.15"/>
<polyline points="406.5,456.5 406.5,463.5 551.5,463.5 551.5,525.5 532.5,525.5" fill="none" stroke="#8a8a8a" stroke-width="1.15"/>
<polyline points="361.5,456.5 361.5,474.5 564.5,474.5 564.5,586.5 533.5,586.5" fill="none" stroke="#8a8a8a" stroke-width="1.15"/>
<polyline points="314.5,456.5 314.5,487.5 573.5,487.5 573.5,610.5 533.5,610.5" fill="none" stroke="#8a8a8a" stroke-width="1.15"/>
<polyline points="350.5,421.5 350.5,503.5" fill="none" stroke="#8a8a8a" stroke-width="1.15"/>
<circle cx="209.4" cy="267.2" r="2.2" fill="#ee1d25"/>
<circle cx="213" cy="387.6" r="2.2" fill="#ee1d25"/>
<circle cx="244.8" cy="416.9" r="2.2" fill="#ee1d25"/>
<circle cx="211" cy="432.6" r="2.2" fill="#ee1d25"/>
<circle cx="244.8" cy="446.0" r="2.2" fill="#ee1d25"/>
<circle cx="505.8" cy="258.8" r="2.2" fill="#ee1d25"/>
<circle cx="505.8" cy="296.2" r="2.2" fill="#ee1d25"/>
<circle cx="505.8" cy="347.8" r="2.2" fill="#ee1d25"/>
<circle cx="505.8" cy="387.2" r="2.2" fill="#ee1d25"/>
<circle cx="405.3" cy="421.1" r="2.2" fill="#ee1d25"/>
<circle cx="474.4" cy="431.9" r="2.2" fill="#ee1d25"/>
<circle cx="406.0" cy="456.4" r="2.2" fill="#ee1d25"/>
<circle cx="361.0" cy="456.4" r="2.2" fill="#ee1d25"/>
<circle cx="314.0" cy="456.4" r="2.2" fill="#ee1d25"/>
<circle cx="360.8" cy="421.6" r="2.2" fill="#ee1d25"/>
<circle cx="359.3" cy="278.1" r="2.2" fill="#ee1d25"/>
</svg></body></html>
